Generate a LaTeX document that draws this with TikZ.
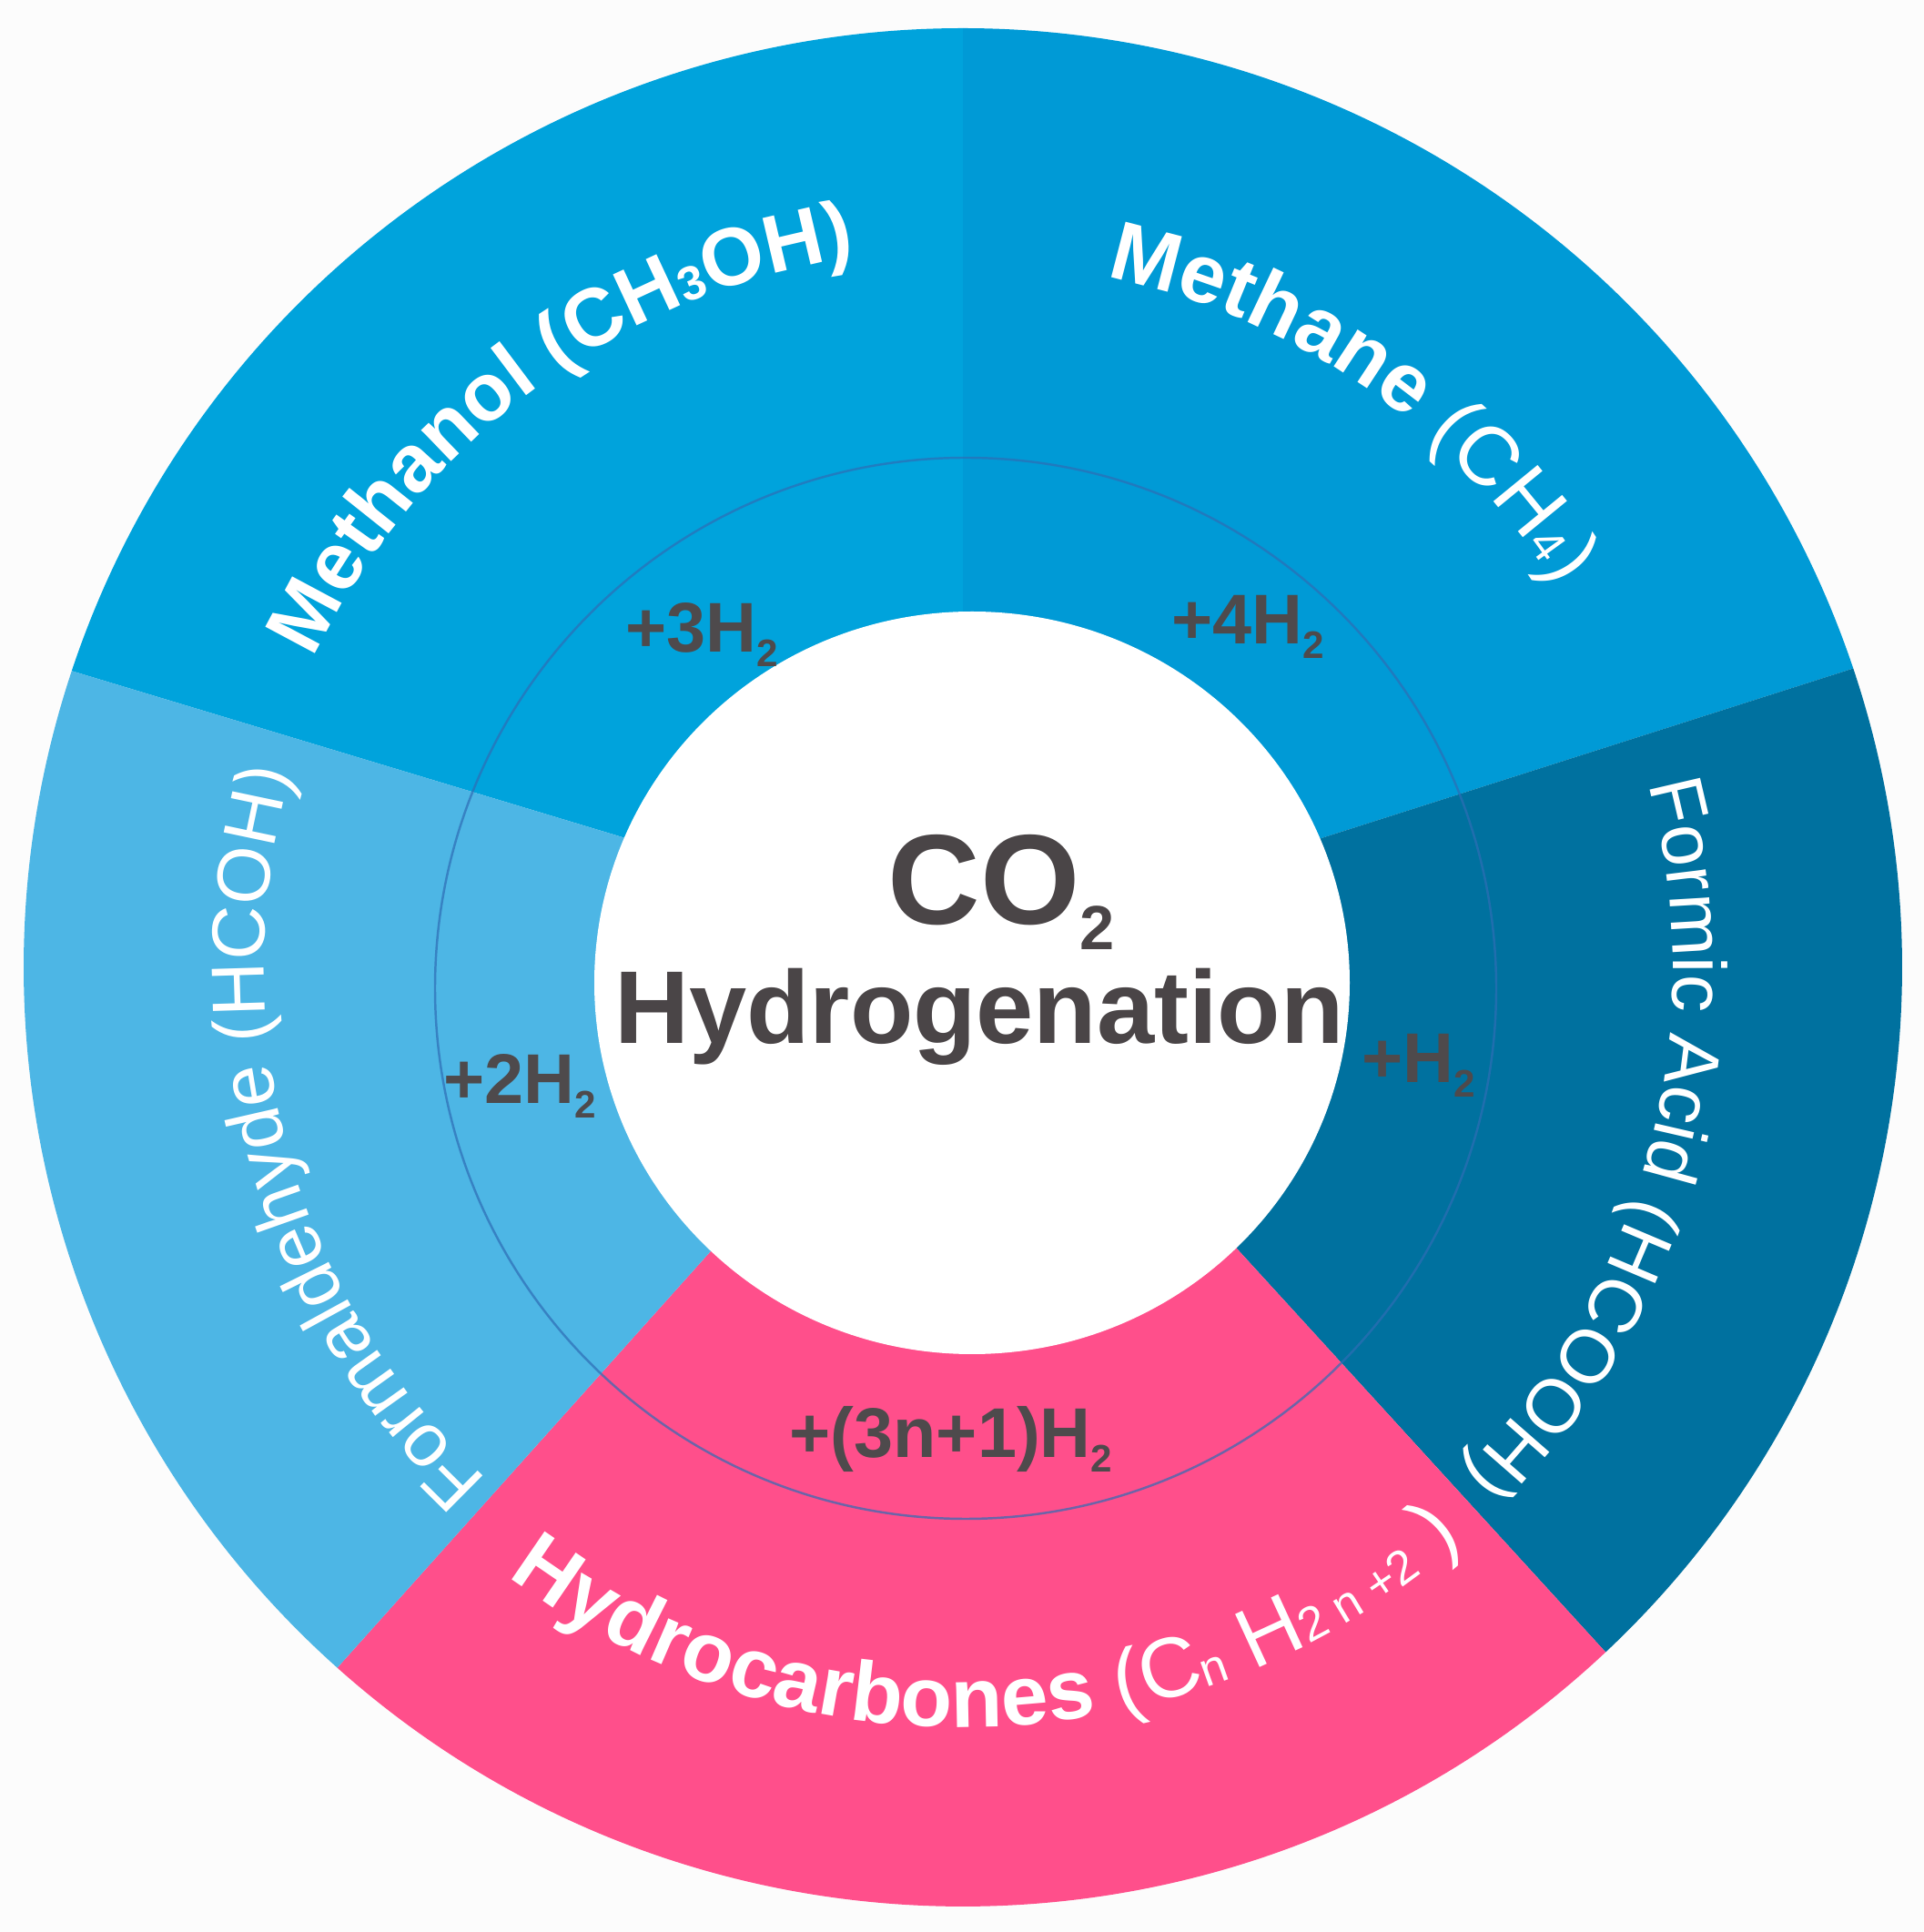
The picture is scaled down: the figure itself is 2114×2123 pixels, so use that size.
\documentclass[tikz,border=0pt]{standalone}
\usepackage{fontspec}
\setmainfont{Liberation Sans}
\usetikzlibrary{decorations.text}
\definecolor{bgc}{HTML}{FCFCFC}
\definecolor{cmethanol}{HTML}{00A3DC}
\definecolor{cmethane}{HTML}{009AD6}
\definecolor{cformic}{HTML}{00719F}
\definecolor{cformal}{HTML}{4DB6E5}
\definecolor{chydro}{HTML}{FF4F8B}
\definecolor{ctext}{HTML}{4A4547}
\definecolor{clab}{HTML}{4E4A4C}
\definecolor{cring}{HTML}{2F6DB5}
\newcommand\fMol{\fontsize{25.5}{30}\selectfont\bfseries}
\newcommand\sMol{\fontsize{15}{18}\selectfont\bfseries\raisebox{-1.5pt}}
\newcommand\fMane{\fontsize{26}{31}\selectfont\bfseries}
\newcommand\fManeR{\fontsize{26}{31}\selectfont\mdseries}
\newcommand\sMane{\fontsize{15}{18}\selectfont\mdseries}
\newcommand\fReg{\fontsize{23.5}{28}\selectfont\mdseries}
\newcommand\fHyd{\fontsize{26.5}{32}\selectfont\bfseries}
\newcommand\fHydR{\fontsize{26.5}{32}\selectfont\mdseries}
\newcommand\sHyd{\fontsize{15}{18}\selectfont\mdseries\raisebox{-2pt}}
\newcommand\sHydU{\fontsize{15}{18}\selectfont\mdseries}
\newcommand\plusH[1]{\fontsize{22}{26}\selectfont\bfseries #1H\raisebox{-4.5pt}{\fontsize{12}{14}\selectfont 2}}
\begin{document}
\begin{tikzpicture}[x=0.01cm,y=0.01cm,
  lab/.style={anchor=base west,inner sep=0pt,text=clab},
  ringtext/.style={decorate,decoration={text along path,text align=center,text color=white,text={#1}}}]
\def\Ro{1032}
\fill[bgc] (0,0) rectangle (2114,2123);
\useasboundingbox (0,0) rectangle (2114,2123);
\coordinate (O) at (1058,1060);
\coordinate (I1) at (1058,1451);
\coordinate (I2) at (1452,1202);
\coordinate (I3) at (1359,751);
\coordinate (I4) at (779,746);
\coordinate (I5) at (684,1203);
% sectors
\fill[cmethanol] (O) -- (I1) -- ([shift={(O)}]90:\Ro) arc[start angle=90,end angle=161.6,radius=\Ro] -- (I5) -- cycle;
\fill[cmethane] (O) -- (I2) -- ([shift={(O)}]18.56:\Ro) arc[start angle=18.56,end angle=90,radius=\Ro] -- (I1) -- cycle;
\fill[cformic] (O) -- (I3) -- ([shift={(O)}]-46.82:\Ro) arc[start angle=-46.82,end angle=18.56,radius=\Ro] -- (I2) -- cycle;
\fill[chydro] (O) -- (I4) -- ([shift={(O)}]-131.77:\Ro) arc[start angle=-131.77,end angle=-46.82,radius=\Ro] -- (I3) -- cycle;
\fill[cformal] (O) -- (I5) -- ([shift={(O)}]161.6:\Ro) arc[start angle=161.6,end angle=228.23,radius=\Ro] -- (I4) -- cycle;
% thin ring
\draw[cring,opacity=0.7,line width=0.7pt] (1061,1037) circle[radius=583];
% white core
\fill[white] (1068,1043) ellipse[x radius=415,y radius=408];
% centre text
\node[anchor=base west,inner sep=0pt,text=ctext] (co2) at (975,1107)
  {\fontsize{40}{48}\selectfont\bfseries CO\raisebox{-7.7pt}{\fontsize{19.5}{22}\selectfont 2}};
\node[anchor=base,inner sep=0pt,text=ctext] (hydrog) at (1076,976)
  {\fontsize{32.3}{38}\selectfont\bfseries Hydrogenation};
% hydrogen labels
\node[lab] (h3) at (687,1406) {\plusH{+3}};
\node[lab] (h4) at (1287,1415) {\plusH{+4}};
\node[lab] (h2) at (487,910) {\plusH{+2}};
\node[lab] (h1) at (1496,933) {\plusH{+}};
\node[lab] (hn) at (867,521) {\plusH{+(3n+1)}};
% ring labels
\path[ringtext={|\fMol|Methanol (CH|\sMol|3|\fMol|OH)}]
  ([shift={(O)}]196.6:790) arc[start angle=196.6,end angle=56.6,radius=790];
\path[ringtext={|\fMane|Methane |\fManeR|(CH|\sMane|4|\fManeR|)}]
  ([shift={(O)}]125.4:775) arc[start angle=125.4,end angle=-14.6,radius=775];
\path[ringtext={|\fReg|Formaldehyde (HCOH)}]
  ([shift={(O)}]265.5:768) arc[start angle=265.5,end angle=125.5,radius=768];
\path[ringtext={|\fReg|Formic Acid (HCOOH)}]
  ([shift={(O)}]54.8:780) arc[start angle=54.8,end angle=-85.2,radius=780];
\path[ringtext={|\fHyd|Hydrocarbones |\fHydR|(C|\sHyd|n|\fHydR| H|\sHyd|2|\sHydU| |\sHyd|n|\sHydU| +2|\fHydR| )}]
  ([shift={(O)}]197.2:835) arc[start angle=197.2,end angle=347.2,radius=835];
\end{tikzpicture}
\end{document}
